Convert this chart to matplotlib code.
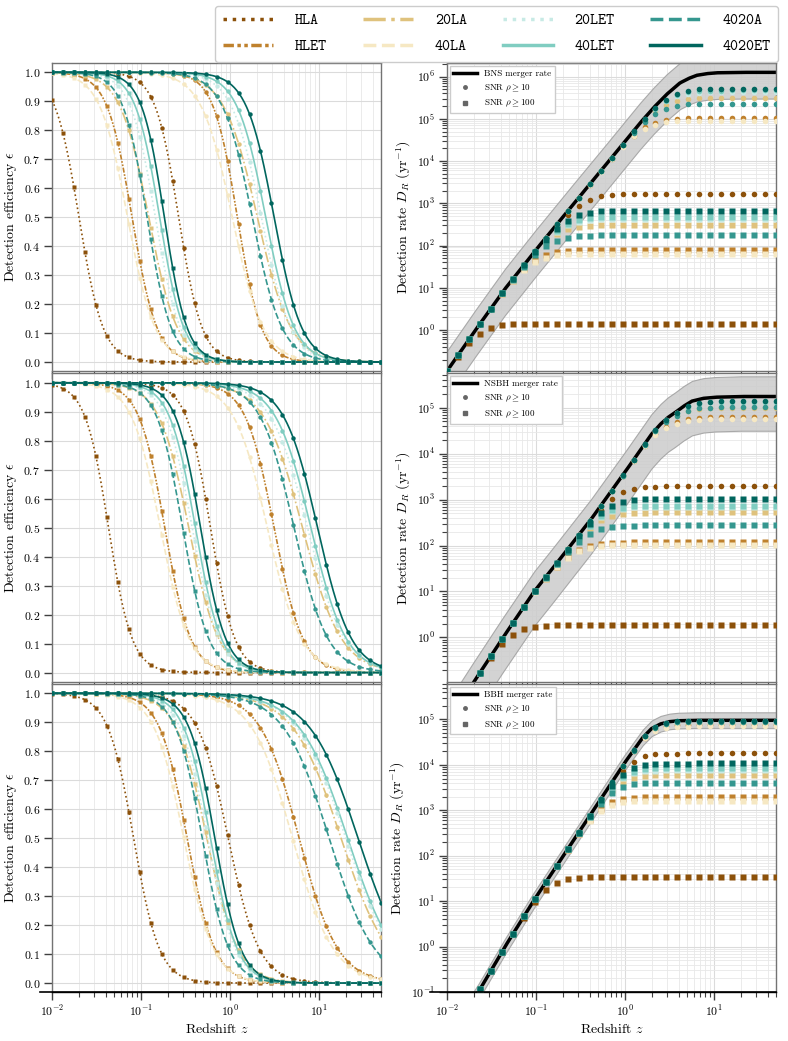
import numpy as np
import matplotlib.pyplot as plt
from matplotlib.lines import Line2D
from matplotlib.ticker import NullFormatter

plt.rcParams['font.family'] = 'serif'
plt.rcParams['font.serif'] = ['cmr10']
plt.rcParams['mathtext.fontset'] = 'cm'
plt.rcParams['axes.formatter.use_mathtext'] = True

# detector networks
detectors = ["HLA", "HLET", "20LA", "40LA", "20LET", "40LET", "4020A", "4020ET"]
colors = ["#8c510a", "#bf812d", "#dfc27d", "#f6e8c3", "#c7eae5", "#80cdc1", "#35978f", "#01665e"]
styles = [":", (0, (3, 1, 1, 1, 1, 1)), "-.", "--", ":", "-", "--", "-"]

populations = ["BNS", "NSBH", "BBH"]

# redshift where efficiency = 0.5
z50_snr10 = {
    "BNS":  [0.265, 1.21, 2.03, 1.06, 2.25, 2.52, 1.78, 3.13],
    "NSBH": [0.604, 3.13, 6.53, 2.63, 7.43, 8.11, 5.25, 9.64],
    "BBH":  [0.955, 5.98, 17.7, 5.04, 20.0, 21.0, 13.0, 27.5],
}
z50_snr100 = {
    "BNS":  [0.0201, 0.0793, 0.122, 0.0706, 0.145, 0.162, 0.117, 0.183],
    "NSBH": [0.0432, 0.185, 0.344, 0.165, 0.376, 0.409, 0.294, 0.467],
    "BBH":  [0.0826, 0.330, 0.550, 0.303, 0.562, 0.603, 0.488, 0.676],
}
# steepness of the fall-off
k_snr10 = {
    "BNS":  [3.3, 3.2, 2.3, 2.5, 2.6, 2.7, 2.6, 2.8],
    "NSBH": [3.2, 2.7, 2.0, 2.3, 2.1, 2.2, 2.3, 2.3],
    "BBH":  [2.5, 2.0, 1.6, 1.9, 1.6, 1.6, 1.7, 1.6],
}
k_snr100 = {
    "BNS":  [3.2, 3.1, 2.7, 2.8, 3.1, 3.2, 3.2, 3.4],
    "NSBH": [3.3, 3.0, 2.6, 2.7, 2.9, 3.0, 3.0, 3.1],
    "BBH":  [3.0, 2.8, 2.5, 2.6, 2.8, 2.9, 2.9, 3.0],
}

# detection-rate plateaus (yr^-1)
plateau_snr10 = {
    "BNS":  [1.7e3, 1.05e5, 3.15e5, 9.0e4, 4.3e5, 4.7e5, 2.3e5, 5.2e5],
    "NSBH": [1.95e3, 6.2e4, 1.0e5, 5.6e4, 1.3e5, 1.35e5, 1.03e5, 1.4e5],
    "BBH":  [1.78e4, 7.6e4, 8.0e4, 7.0e4, 9.1e4, 9.2e4, 8.8e4, 9.4e4],
}
plateau_snr100 = {
    "BNS":  [1.4, 79, 310, 64, 430, 480, 175, 670],
    "NSBH": [1.85, 117, 525, 105, 700, 740, 275, 1050],
    "BBH":  [34, 1950, 5900, 1600, 7600, 8500, 4000, 10700],
}

# cumulative merger rate: log10 z, log10 rate
rate_logz = {
    "BNS":  [-2.0, -1.68, -1.35, -1.0, -0.6, -0.2, 0.169, 0.32, 0.469, 0.618, 0.72, 0.806, 0.92, 1.03, 1.3, 1.7],
    "NSBH": [-2.0, -1.71, -1.37, -1.02, -0.822, -0.385, -0.006, 0.298, 0.4, 0.48, 0.563, 0.66, 0.753, 0.88,
             1.02, 1.3, 1.7],
    "BBH":  [-2.0, -1.648, -1.348, -1.03, -0.693, -0.356, -0.02, 0.1, 0.2, 0.3, 0.4, 0.5, 0.6, 0.8, 1.7],
}
rate_logr = {
    "BNS":  [-0.97, 0.0, 0.97, 1.9, 2.93, 3.95, 4.9, 5.26, 5.58, 5.85, 5.96, 6.03, 6.07, 6.09, 6.1, 6.1],
    "NSBH": [-1.87, -1.0, 0.0, 1.0, 1.48, 2.56, 3.58, 4.42, 4.64, 4.78, 4.89, 5.03, 5.14, 5.2, 5.225,
             5.24, 5.24],
    "BBH":  [-2.06, -1.0, 0.0, 1.0, 2.0, 3.0, 4.0, 4.33, 4.6, 4.8, 4.9, 4.95, 4.97, 4.98, 4.98],
}
# 90% band on the local merger rate (multiplicative)
rate_low = {"BNS": 0.24, "NSBH": 0.18, "BBH": 0.68}
rate_high = {"BNS": 3.0, "NSBH": 2.75, "BBH": 1.5}

ylims_rate = {"BNS": (0.107, 2.1e6), "NSBH": (0.11, 5.5e5), "BBH": (0.1, 6e5)}

z_pts = np.logspace(-2, np.log10(50), 31)
z_fine = np.logspace(-2, np.log10(50), 400)


def efficiency(z, z50, k):
    return 1.0 / (1.0 + (z / z50) ** k)


def merger_rate(z, pop):
    return 10 ** np.interp(np.log10(z), rate_logz[pop], rate_logr[pop])


def detection_rate(z, pop, plateau, n=1.3):
    r = merger_rate(z, pop)
    rmax = 10 ** rate_logr[pop][-1]
    p = min(plateau, 0.985 * rmax)
    knee = rmax / ((rmax / p) ** n - 1) ** (1 / n)
    return r / (1 + (r / knee) ** n) ** (1 / n)


def log_ticks(lo, hi):
    major = [10.0 ** e for e in range(int(np.floor(np.log10(lo))) - 1, int(np.ceil(np.log10(hi))) + 1)]
    minor = [m * t for t in major for m in range(2, 10)]
    return ([t for t in major if lo <= t <= hi * 1.0001],
            [t for t in minor if lo <= t <= hi * 1.0001])


fig = plt.figure(figsize=(7.88, 10.41), dpi=100)
gs = fig.add_gridspec(3, 2, left=0.066, right=0.985, top=0.9395, bottom=0.047,
                      hspace=0.008, wspace=0.2)

xmaj, xmin = log_ticks(0.01, 50)

axes_left = []
axes_right = []
for row, pop in enumerate(populations):
    axl = fig.add_subplot(gs[row, 0], sharex=axes_left[0] if axes_left else None)
    axr = fig.add_subplot(gs[row, 1], sharex=axes_right[0] if axes_right else None)
    axes_left.append(axl)
    axes_right.append(axr)

    for i, det in enumerate(detectors):
        for z50, k, mk in [(z50_snr10[pop][i], k_snr10[pop][i], "o"),
                           (z50_snr100[pop][i], k_snr100[pop][i], "s")]:
            axl.plot(z_fine, efficiency(z_fine, z50, k), color=colors[i], ls=styles[i], lw=1.2, zorder=2)
            axl.plot(z_pts, efficiency(z_pts, z50, k), color=colors[i], ls="none", marker=mk, ms=3.2,
                     mec="none", zorder=3)

    # merger rate with band
    r = merger_rate(z_fine, pop)
    axr.fill_between(z_fine, r * rate_low[pop], r * rate_high[pop], color="0.8", alpha=0.85,
                     edgecolor="0.62", lw=0.8, zorder=1)
    axr.plot(z_fine, r, color="k", lw=2.5, zorder=2)
    for i, det in enumerate(detectors):
        axr.plot(z_pts, detection_rate(z_pts, pop, plateau_snr10[pop][i]), ls="none", marker="o",
                 ms=4.0, color=colors[i], mec="none", zorder=3)
        axr.plot(z_pts, detection_rate(z_pts, pop, plateau_snr100[pop][i]), ls="none", marker="s",
                 ms=4.0, color=colors[i], mec="none", zorder=3)

    handles = [Line2D([], [], color="k", lw=2.5),
               Line2D([], [], color="0.4", marker="o", ls="none", ms=2.5),
               Line2D([], [], color="0.4", marker="s", ls="none", ms=2.5)]
    axr.legend(handles, [pop + " merger rate", r"SNR $\rho \geq 10$", r"SNR $\rho \geq 100$"],
               loc="upper left", fontsize=6.5, handlelength=2.6, borderaxespad=0.3,
               framealpha=1, edgecolor="0.8", fancybox=False)

    axl.set_xscale("log")
    axl.set_xlim(0.01, 50)
    axl.set_ylim(-0.031, 1.032)
    axl.set_yticks(np.round(np.arange(0, 1.01, 0.1), 1))
    axl.set_ylabel(r"Detection efficiency $\epsilon$", fontsize=10, labelpad=3)

    axr.set_xscale("log")
    axr.set_yscale("log")
    axr.set_xlim(0.01, 50)
    axr.set_ylim(*ylims_rate[pop])
    ymaj, ymin = log_ticks(*ylims_rate[pop])
    axr.set_yticks(ymaj)
    axr.set_yticks(ymin, minor=True)
    axr.yaxis.set_minor_formatter(NullFormatter())
    axr.set_ylabel(r"Detection rate $D_R$ $(\mathrm{yr}^{-1})$", fontsize=10, labelpad=3)

    for ax in (axl, axr):
        ax.set_xticks(xmaj)
        ax.set_xticks(xmin, minor=True)
        ax.xaxis.set_minor_formatter(NullFormatter())
        ax.set_xlim(0.01, 50)
        ax.grid(True, which="major", color="0.86", lw=0.8)
        ax.grid(True, which="minor", color="0.91", lw=0.6)
        ax.set_axisbelow(True)
        ax.tick_params(which="major", direction="out", length=6, width=1.0, color="0.25",
                       labelsize=8.5, pad=2.5)
        ax.tick_params(which="minor", direction="out", length=3.5, width=0.8, color="0.25")
        for s in ax.spines.values():
            s.set_color("0.45")
            s.set_linewidth(1.0)
        if row < 2:
            ax.tick_params(labelbottom=False)
        else:
            ax.set_xlabel(r"Redshift $z$", fontsize=10, labelpad=2)
            ax.spines["bottom"].set_color("k")

# bottom axis line extends a little past the left spine
for x0, x1 in [(40, 381), (430, 776)]:
    fig.add_artist(Line2D([x0 / 788, x1 / 788], [1 - 992 / 1041] * 2, color="k", lw=1.2,
                          transform=fig.transFigure))

leg_handles = [Line2D([], [], color=colors[i], ls=styles[i], lw=2.5) for i in range(len(detectors))]
leg = fig.legend(leg_handles, detectors, loc="upper right", bbox_to_anchor=(778 / 788, 1 - 6 / 1041),
                 ncol=4, prop={"family": "cmtt10", "size": 11}, handlelength=3.3, handletextpad=1.4,
                 columnspacing=2.35, framealpha=1, edgecolor="0.8", borderpad=0.5, borderaxespad=0,
                 labelspacing=0.75)
leg.set_zorder(10)

fig.savefig("out.png", dpi=100)
